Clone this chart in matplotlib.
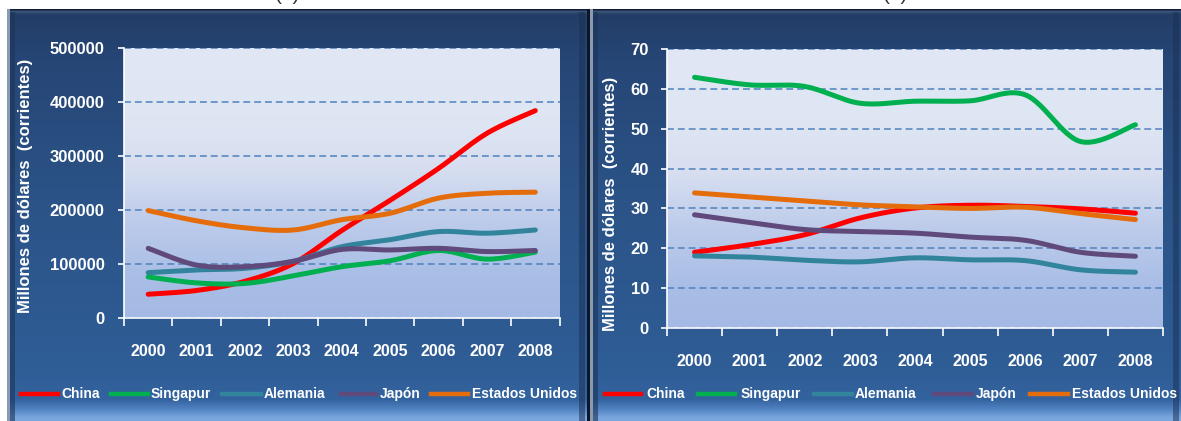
import numpy as np
import matplotlib.pyplot as plt
from matplotlib.colors import to_rgb
from matplotlib.lines import Line2D
from matplotlib.patches import Rectangle

W, H = 1181, 421
FONT = ["Liberation Sans", "DejaVu Sans"]

years = ["2000", "2001", "2002", "2003", "2004", "2005", "2006", "2007", "2008"]
countries = ["China", "Singapur", "Alemania", "Japón", "Estados Unidos"]
colors = ["#ff0000", "#00b050", "#31849b", "#604a7b", "#e46c0a"]

# panel (a): millones de dólares corrientes
a_china = [44000, 51000, 68000, 101000, 162000, 218000, 277000, 342000, 384000]
a_singapur = [76000, 65000, 64000, 78000, 95000, 106000, 125000, 109000, 122000]
a_alemania = [84000, 89000, 92000, 105000, 132000, 145000, 160000, 157000, 163000]
a_japon = [129000, 98000, 95000, 105000, 127000, 126000, 129000, 123000, 125000]
a_eeuu = [199000, 180000, 167000, 163000, 182000, 194000, 222000, 231000, 233000]

# panel (b)
b_china = [19.0, 20.9, 23.4, 27.6, 30.1, 30.8, 30.5, 29.9, 28.8]
b_singapur = [62.9, 61.0, 60.6, 56.4, 56.9, 57.0, 58.5, 46.8, 51.0]
b_alemania = [18.1, 17.8, 17.0, 16.6, 17.6, 17.1, 16.9, 14.6, 14.0]
b_japon = [28.4, 26.5, 24.7, 24.2, 23.8, 22.8, 22.0, 19.0, 18.0]
b_eeuu = [33.9, 32.9, 31.9, 30.9, 30.4, 30.0, 30.3, 28.7, 27.2]

a_ticks = [0, 100000, 200000, 300000, 400000, 500000]
b_ticks = [0, 10, 20, 30, 40, 50, 60, 70]


def smooth(y, n=30):
    """Bezier smoothing between consecutive points (spreadsheet style)."""
    x = np.arange(len(y), dtype=float)
    y = np.asarray(y, dtype=float)
    pts = np.column_stack([x, y])
    t = np.linspace(0, 1, n)[:, None]
    out = [pts[:1]]
    last = len(pts) - 1
    for i in range(last):
        p0, p3 = pts[i], pts[i + 1]
        c1 = p0 + (pts[i + 1] - pts[max(i - 1, 0)]) / 6
        c2 = p3 - (pts[min(i + 2, last)] - pts[i]) / 6
        seg = ((1 - t) ** 3 * p0 + 3 * (1 - t) ** 2 * t * c1
               + 3 * (1 - t) * t ** 2 * c2 + t ** 3 * p3)
        out.append(seg[1:])
    pts = np.vstack(out)
    return pts[:, 0], pts[:, 1]


def vgrad(stops, n=421):
    pos = np.array([s[0] for s in stops], dtype=float)
    cols = np.array([to_rgb(s[1]) for s in stops])
    yy = np.linspace(pos[0], pos[-1], n)
    img = np.stack([np.interp(yy, pos, cols[:, k]) for k in range(3)], axis=1)
    return img[:, None, :]


PANEL_STOPS = [(9, "#0e1c33"), (11, "#3b5479"), (14, "#233d66"),
               (60, "#264676"), (200, "#2b5387"), (370, "#2f5d96"),
               (400, "#33639f"), (410, "#5384c3"), (418, "#79a6dd"),
               (421, "#7aa7de")]
PLOT_STOPS = [(0.0, "#a4bae4"), (0.15, "#a9bee6"), (0.35, "#bccbea"),
              (0.55, "#d6def0"), (0.75, "#dfe6f3"), (1.0, "#e1e7f4")]

fig = plt.figure(figsize=(W / 100, H / 100), dpi=100)
fig.patch.set_facecolor("white")

bg = fig.add_axes([0, 0, 1, 1], zorder=-5)
bg.axis("off")

for x0, x1 in [(7, 587), (590, W)]:
    bg.imshow(vgrad(PANEL_STOPS), extent=(x0, x1, H, 9), aspect="auto",
              interpolation="bilinear", origin="upper")
    bg.add_patch(Rectangle((x0, 9), 3, H - 9, color="#8a9ab0", lw=0))
    bg.add_patch(Rectangle((x0 + 3, 12), 5, H - 12, color="#1c3459",
                           lw=0, alpha=0.6))
    bg.add_patch(Rectangle((x1 - 8, 12), 6, H - 12, color="#1a3054",
                           lw=0, alpha=0.5))
bg.add_patch(Rectangle((587, 9), 3, H - 9, color="#0c1626", lw=0))
bg.set_xlim(0, W)
bg.set_ylim(H, 0)

# panel captions, mostly hidden above the frames
fig.text(287 / W, 1.012, "(a)", ha="center", va="center", fontsize=15,
         color="#333333", family=FONT)
fig.text(895 / W, 1.012, "(b)", ha="center", va="center", fontsize=15,
         color="#333333", family=FONT)


def chart(rect, series, ticks, top, ypad):
    ax = fig.add_axes(rect)
    ax.set_facecolor("none")
    ax.imshow(vgrad(PLOT_STOPS, n=200)[::-1],
              extent=(0, 1, 0, 1), transform=ax.transAxes, aspect="auto",
              interpolation="bilinear", zorder=0)
    for vals, col in zip(series, colors):
        xs, ys = smooth(vals)
        ax.plot(xs, ys, color=col, lw=3.6, solid_capstyle="round", zorder=3)
    ax.set_xlim(-0.5, len(years) - 0.5)
    ax.set_ylim(0, top)
    ax.set_yticks(ticks)
    ax.set_yticklabels([str(t) for t in ticks])
    ax.set_xticks(range(len(years)))
    ax.set_xticklabels(years)
    ax.set_xticks(np.arange(-0.5, len(years)), minor=True)
    ax.tick_params(axis="x", which="major", length=0, pad=19)
    ax.tick_params(axis="x", which="minor", length=6, width=1.2,
                   color="white", direction="out")
    ax.tick_params(axis="y", length=4.5, width=1.2, color="white", pad=ypad)
    for lab in ax.get_xticklabels():
        lab.set_fontsize(11.5)
    for lab in ax.get_yticklabels():
        lab.set_fontsize(12)
    for lab in ax.get_xticklabels() + ax.get_yticklabels():
        lab.set_color("white")
        lab.set_fontweight("bold")
        lab.set_family(FONT)
    ax.yaxis.grid(True, color="#4f81bd", lw=1.1, linestyle=(0, (4.5, 2.6)),
                  zorder=1)
    ax.set_axisbelow(True)
    for s in ("top", "right"):
        ax.spines[s].set_visible(False)
    for s in ("left", "bottom"):
        ax.spines[s].set_color("white")
        ax.spines[s].set_linewidth(1.2)
    return ax


ax_a = chart([124 / W, 1 - 318 / H, 435.5 / W, 270 / H],
             [a_china, a_singapur, a_alemania, a_japon, a_eeuu],
             a_ticks, 500000, 9.5)
ax_b = chart([667 / W, 1 - 328 / H, 496 / W, 279 / H],
             [b_china, b_singapur, b_alemania, b_japon, b_eeuu],
             b_ticks, 70, 8.5)

ylabel = "Millones de dólares  (corrientes)"
fig.text(26 / W, 1 - 186 / H, ylabel, rotation=90, ha="center", va="center",
         color="white", fontweight="bold", fontsize=12, family=FONT)
fig.text(611 / W, 1 - 204 / H, ylabel, rotation=90, ha="center", va="center",
         color="white", fontweight="bold", fontsize=12, family=FONT)

# legends along the bottom of each frame: (line start, line end, text x)
legend_a = [(21, 58, 61), (111, 148, 151), (222, 261, 264), (341, 376, 380),
            (431, 468, 472)]
legend_b = [(605, 641, 646), (698, 735, 741), (814, 852, 855),
            (934, 972, 976), (1030, 1068, 1072)]
ly = 1 - 394 / H
for layout in (legend_a, legend_b):
    for (l0, l1, tx), name, col in zip(layout, countries, colors):
        fig.add_artist(Line2D([l0 / W, l1 / W], [ly, ly], color=col, lw=3.2,
                              transform=fig.transFigure))
        fig.text(tx / W, ly, name, ha="left", va="center", color="white",
                 fontsize=10, fontweight="bold", family=FONT)

fig.savefig("out.png", dpi=100)
